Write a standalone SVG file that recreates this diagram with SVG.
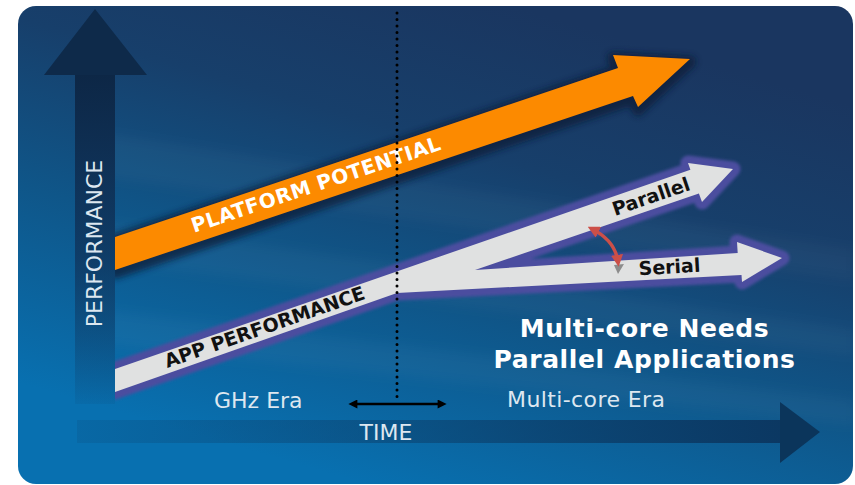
<svg xmlns="http://www.w3.org/2000/svg" width="855" height="485" viewBox="0 0 855 485">
  <defs>
    <style>
      .axis-label { font-family: "DejaVu Sans", "Liberation Sans", sans-serif; font-size: 22px; fill: #dde7f0; }
      .band-label { font-family: "DejaVu Sans", "Liberation Sans", sans-serif; font-weight: bold; font-size: 19px; }
      .on-orange { fill: #ffffff; font-size: 20px; letter-spacing: 0.5px; }
      .on-grey { fill: #111111; }
      .headline { font-family: "DejaVu Sans", "Liberation Sans", sans-serif; font-weight: bold; font-size: 25px; fill: #ffffff; letter-spacing: 0.6px; text-anchor: middle; }
      .streak { fill: #ffffff; opacity: 0.03; }
    </style>
    <linearGradient id="bg" gradientUnits="userSpaceOnUse" x1="560" y1="20" x2="420" y2="500">
      <stop offset="0" stop-color="#1a3660"/>
      <stop offset="0.3" stop-color="#173f6b"/>
      <stop offset="0.62" stop-color="#0f5689"/>
      <stop offset="1" stop-color="#0870b0"/>
    </linearGradient>
    <linearGradient id="shaftV" gradientUnits="userSpaceOnUse" x1="0" y1="74" x2="0" y2="404">
      <stop offset="0" stop-color="#0d2746" stop-opacity="1"/>
      <stop offset="0.55" stop-color="#0f2f55" stop-opacity="0.7"/>
      <stop offset="1" stop-color="#0f2f55" stop-opacity="0.08"/>
    </linearGradient>
    <linearGradient id="shaftH" gradientUnits="userSpaceOnUse" x1="77" y1="0" x2="781" y2="0">
      <stop offset="0" stop-color="#0b3a64" stop-opacity="0.15"/>
      <stop offset="0.5" stop-color="#0b3a64" stop-opacity="0.5"/>
      <stop offset="1" stop-color="#0b3660" stop-opacity="0.95"/>
    </linearGradient>
    <clipPath id="rightOfAxis">
      <rect x="115" y="0" width="740" height="485"/>
    </clipPath>
    <filter id="soft" x="-10%" y="-30%" width="120%" height="160%">
      <feGaussianBlur stdDeviation="3"/>
    </filter>
    <filter id="halo" x="-10%" y="-30%" width="120%" height="160%">
      <feGaussianBlur stdDeviation="1.8"/>
    </filter>
    <filter id="haze" x="-5%" y="-50%" width="110%" height="200%">
      <feGaussianBlur stdDeviation="6"/>
    </filter>
    <marker id="redHead" viewBox="0 0 10 10" refX="6" refY="5" markerWidth="12" markerHeight="12" markerUnits="userSpaceOnUse" orient="auto-start-reverse">
      <path d="M0,0 L10,5 L0,10 z" fill="#cc4f48"/>
    </marker>
    <marker id="blackHead" viewBox="0 0 10 10" refX="6" refY="5" markerWidth="11" markerHeight="9" markerUnits="userSpaceOnUse" orient="auto-start-reverse">
      <path d="M0,0 L10,5 L0,10 z" fill="#000000"/>
    </marker>
  </defs>

  <!-- panel -->
  <rect x="0" y="0" width="855" height="485" fill="#ffffff"/>
  <rect x="18" y="6" width="835" height="478" rx="18" ry="18" fill="url(#bg)"/>
  <g clip-path="url(#rightOfAxis)" filter="url(#haze)">
    <polygon class="streak" points="18,120 855,250 855,280 18,165"/>
    <polygon class="streak" points="18,210 855,330 855,355 18,250"/>
    <polygon class="streak" points="18,300 855,400 855,425 18,335"/>
  </g>

  <!-- vertical axis -->
  <g id="performance-axis">
    <rect x="75" y="74" width="40" height="330" fill="url(#shaftV)"/>
    <polygon points="44,75 95,9 147,75" fill="#0e2a4a"/>
    <text class="axis-label" transform="translate(101.5,243.5) rotate(-90)" text-anchor="middle">PERFORMANCE</text>
  </g>

  <!-- horizontal axis -->
  <g id="time-axis">
    <rect x="77" y="420" width="704" height="23" fill="url(#shaftH)"/>
    <polygon points="780,402 820,432 780,463" fill="#0b355b"/>
    <text class="axis-label" x="386" y="440" text-anchor="middle">TIME</text>
  </g>

  <!-- platform potential trend -->
  <g id="platform-potential">
    <g clip-path="url(#rightOfAxis)">
      <polygon points="115,237 618,68 613,55 690,59 638,107 633,96 115,270" fill="#0a1e38" stroke="#0a1e38" stroke-width="12" stroke-linejoin="round" opacity="0.75" filter="url(#soft)" transform="translate(0,3)"/>
      <polygon points="115,237 618,68 613,55 690,59 638,107 633,96 115,270" fill="#fc8a00"/>
    </g>
    <text class="band-label on-orange" transform="translate(316.5,185.8) rotate(-18.57)" text-anchor="middle" y="5.5">PLATFORM POTENTIAL</text>
  </g>

  <!-- application performance trend, splitting into parallel and serial -->
  <g id="app-performance">
    <g clip-path="url(#rightOfAxis)">
      <polygon points="115,369 690.4,169.8 688,163 733,169 702,202 698.9,193.5 475,270 737.7,253 737,242 782,258 742,282 741.5,275 397,293 115,392" fill="#4b4e9f" stroke="#4b4e9f" stroke-width="15" stroke-linejoin="round" filter="url(#halo)"/>
      <polygon points="115,369 690.4,169.8 688,163 733,169 702,202 698.9,193.5 475,270 737.7,253 737,242 782,258 742,282 741.5,275 397,293 115,392" fill="#e0e1e1"/>
    </g>
    <text class="band-label on-grey" transform="translate(265,328.1) rotate(-19.24)" text-anchor="middle" y="5.5">APP PERFORMANCE</text>
  </g>
  <g id="parallel-branch">
    <text class="band-label on-grey" transform="translate(651.5,198) rotate(-19)" text-anchor="middle" y="5">Parallel</text>
  </g>
  <g id="serial-branch">
    <text class="band-label on-grey" transform="translate(669.5,268) rotate(-3.3)" text-anchor="middle" y="5.5">Serial</text>
  </g>

  <!-- era labels -->
  <g id="ghz-era">
    <text class="axis-label" x="214" y="408">GHz Era</text>
  </g>
  <g id="multicore-era">
    <text class="axis-label" x="507" y="407" letter-spacing="0.4">Multi-core Era</text>
  </g>

  <!-- headline -->
  <g id="headline">
    <text class="headline" x="644.5" y="337">Multi-core Needs</text>
    <text class="headline" x="644.5" y="368">Parallel Applications</text>
  </g>

  <!-- connectors -->
  <g id="connectors">
    <line x1="397" y1="13" x2="397" y2="398" stroke="#000000" stroke-width="3" stroke-linecap="round" stroke-dasharray="0 6.5"/>
    <line x1="352" y1="404" x2="443" y2="404" stroke="#000000" stroke-width="2.5" marker-start="url(#blackHead)" marker-end="url(#blackHead)"/>
    <polygon points="614,265 624,264 618,274" fill="#8c8c8c"/>
    <path d="M592,229 C606,236 616,247 618,262" fill="none" stroke="#cc4f48" stroke-width="3.4" marker-start="url(#redHead)" marker-end="url(#redHead)"/>
  </g>
</svg>
